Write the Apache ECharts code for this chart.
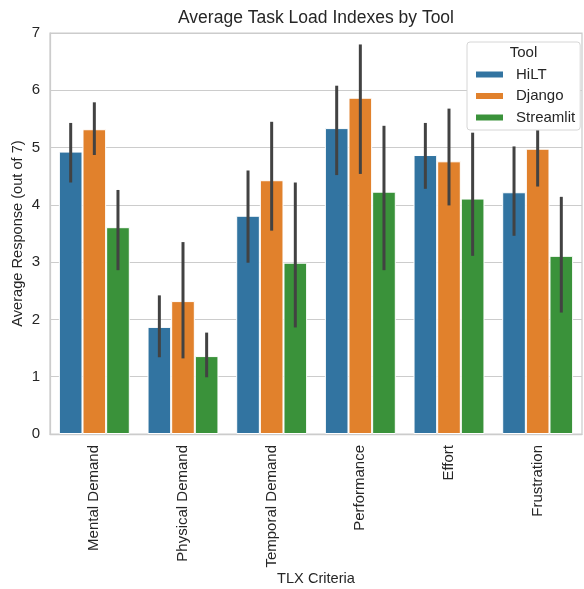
<!DOCTYPE html>
<html>
<head>
<meta charset="utf-8">
<script src="https://cdn.jsdelivr.net/npm/echarts@6/dist/echarts.min.js"></script>
<style>
html,body{margin:0;padding:0;background:#fff;}
#chart{width:584px;height:589px;}
</style>
</head>
<body>
<div id="chart"></div>
<script>
const categories = ['Mental Demand','Physical Demand','Temporal Demand','Performance','Effort','Frustration'];
const tools = ['HiLT','Django','Streamlit'];
const hilt = [4.93, 1.87, 3.81, 5.34, 4.87, 4.22];
const django = [5.32, 2.32, 4.43, 5.87, 4.76, 4.98];
const streamlit = [3.61, 1.36, 2.99, 4.23, 4.11, 3.11];
const hiltLow = [4.39, 1.34, 2.99, 4.52, 4.28, 3.46];
const hiltHigh = [5.43, 2.42, 4.60, 6.08, 5.43, 5.02];
const djangoLow = [4.87, 1.32, 3.55, 4.54, 3.99, 4.32];
const djangoHigh = [5.79, 3.35, 5.45, 6.80, 5.68, 5.62];
const streamlitLow = [2.86, 0.99, 1.86, 2.86, 3.11, 2.12];
const streamlitHigh = [4.26, 1.77, 4.39, 5.38, 5.26, 4.14];
const yTicks = [0,1,2,3,4,5,6,7];

const colors = ['#3274A1','#E1812C','#3A923A'];
const textColor = '#262626';
const font = '"Liberation Sans", Arial, sans-serif';

const means = [hilt, django, streamlit];
const lows = [hiltLow, djangoLow, streamlitLow];
const highs = [hiltHigh, djangoHigh, streamlitHigh];

const series = [];
tools.forEach((t, i) => {
  series.push({
    name: t,
    type: 'bar',
    data: means[i],
    barGap: '0%',
    barCategoryGap: '20%',
    itemStyle: { color: colors[i], borderColor: '#ffffff', borderWidth: 1 },
    emphasis: { disabled: true },
    z: 2
  });
});
tools.forEach((t, i) => {
  series.push({
    name: t + ' CI',
    type: 'custom',
    data: categories.map((c, k) => [k, lows[i][k], highs[i][k]]),
    z: 3,
    renderItem: function (params, api) {
      const k = api.value(0);
      const lo = api.coord([k, api.value(1)]);
      const hi = api.coord([k, api.value(2)]);
      const bw = api.size([1, 0])[0] * 0.8 / 3;
      const x = lo[0] + (i - 1) * bw;
      return {
        type: 'line',
        shape: { x1: x, y1: lo[1], x2: x, y2: hi[1] },
        style: { stroke: '#424242', lineWidth: 3, lineCap: 'butt' }
      };
    }
  });
});

const chart = echarts.init(document.getElementById('chart'), null, { renderer: 'canvas' });
chart.setOption({
  animation: false,
  backgroundColor: '#ffffff',
  textStyle: { fontFamily: font },
  title: [
    {
      text: 'Average Task Load Indexes by Tool',
      left: 316, top: 9, textAlign: 'center', padding: 0,
      textStyle: { fontFamily: font, fontSize: 17.5, fontWeight: 'normal', color: textColor }
    },
    {
      text: 'Tool',
      left: 523.5, top: 45, textAlign: 'center', padding: 0,
      textStyle: { fontFamily: font, fontSize: 15, fontWeight: 'normal', color: textColor }
    }
  ],
  legend: {
    data: tools,
    orient: 'vertical',
    left: 467, top: 42,
    padding: [25, 5, 5, 7],
    itemWidth: 29, itemHeight: 8,
    itemGap: 6.5,
    icon: 'rect',
    backgroundColor: '#ffffff',
    borderColor: '#d6d6d6',
    borderWidth: 1,
    borderRadius: 3,
    textStyle: { fontFamily: font, fontSize: 15, color: textColor, lineHeight: 15, padding: [0, 0, 0, 7] }
  },
  grid: {
    left: 50, right: 2, top: 33, bottom: 155,
    outerBoundsMode: 'none',
    containLabel: false,
    show: true, borderColor: '#cccccc', borderWidth: 1.25
  },
  xAxis: {
    type: 'category',
    data: categories,
    name: 'TLX Criteria',
    nameLocation: 'middle',
    nameGap: 137,
    nameMoveOverlap: false,
    nameTextStyle: { fontFamily: font, fontSize: 14.6, color: textColor },
    axisLine: { show: true, lineStyle: { color: '#cccccc', width: 1.25 } },
    axisTick: { show: false },
    axisLabel: { rotate: 90, margin: 11, fontFamily: font, fontSize: 15, color: textColor, interval: 0 },
    splitLine: { show: false }
  },
  yAxis: {
    type: 'value',
    min: yTicks[0], max: yTicks[yTicks.length - 1], interval: 1,
    name: 'Average Response (out of 7)',
    nameLocation: 'middle',
    nameGap: 25,
    nameMoveOverlap: false,
    nameTextStyle: { fontFamily: font, fontSize: 14.6, color: textColor },
    axisLine: { show: true, lineStyle: { color: '#cccccc', width: 1.25 } },
    axisTick: { show: false },
    axisLabel: { margin: 10, fontFamily: font, fontSize: 15, color: textColor },
    splitLine: { show: true, lineStyle: { color: '#cccccc', width: 1 } }
  },
  series: series
});
</script>
</body>
</html>
